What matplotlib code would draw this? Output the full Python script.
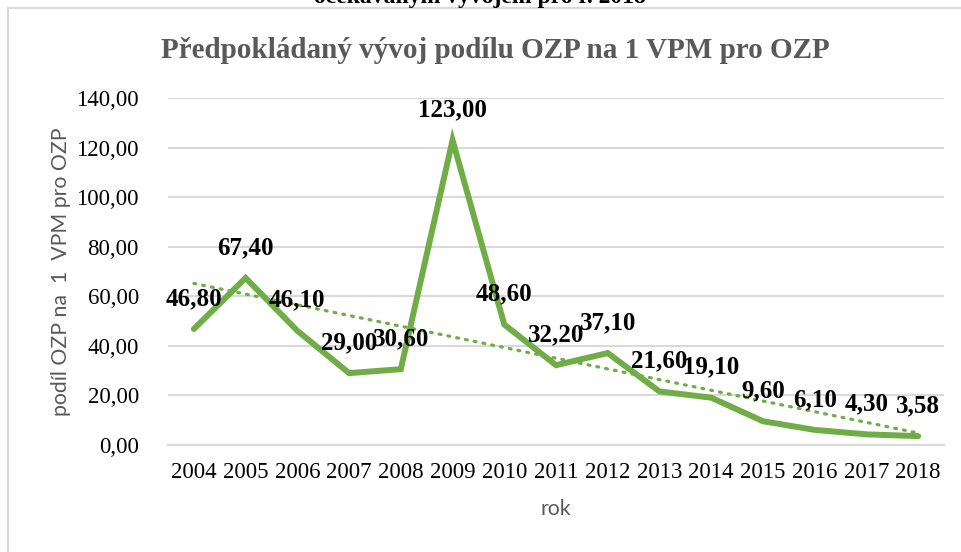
import matplotlib
matplotlib.use("Agg")
import matplotlib.pyplot as plt
import numpy as np
from matplotlib.patches import Rectangle

years = ["2004", "2005", "2006", "2007", "2008", "2009", "2010", "2011",
         "2012", "2013", "2014", "2015", "2016", "2017", "2018"]
values = [46.80, 67.40, 46.10, 29.00, 30.60, 123.00, 48.60, 32.20,
          37.10, 21.60, 19.10, 9.60, 6.10, 4.30, 3.58]
yticks = [0, 20, 40, 60, 80, 100, 120, 140]

title = "Předpokládaný vývoj podílu OZP na 1 VPM pro OZP"
caption = "očekávaným vývojem pro r. 2018"
ylabel = "podíl OZP na  1  VPM pro OZP"
xlabel = "rok"

GREEN = "#70AD47"
GRAY = "#595959"
GRID = "#D9D9D9"
SERIF = ["Liberation Serif", "DejaVu Serif"]
SANS = ["Lato", "DejaVu Sans"]

fig = plt.figure(figsize=(9.61, 5.52), dpi=100)
fig.patch.set_facecolor("white")

# chart border
fig.patches.append(Rectangle((8 / 961, -0.1), 1.2, 1.1 - 8 / 552,
                             transform=fig.transFigure, fill=False,
                             edgecolor=GRID, linewidth=1.5))

ax = fig.add_axes([168 / 961, (552 - 445) / 552, (944 - 168) / 961, (445 - 98) / 552])
x = np.arange(len(years))

ax.set_xlim(-0.5, len(years) - 0.5)
ax.set_ylim(0, 140)
ax.set_yticks(yticks)
ax.set_yticklabels([f"{v:.2f}".replace(".", ",") for v in yticks],
                   fontfamily=SERIF, fontsize=16.5, color="black")
ax.set_xticks(x)
ax.set_xticklabels(years, fontfamily=SERIF, fontsize=16.5, color="black")
ax.tick_params(axis="both", length=0)
ax.tick_params(axis="y", pad=21)
ax.tick_params(axis="x", pad=12)
ax.grid(axis="y", color=GRID, linewidth=1.5)
ax.set_axisbelow(True)
for s in ["left", "right", "top"]:
    ax.spines[s].set_visible(False)
ax.spines["bottom"].set_color(GRID)
ax.spines["bottom"].set_linewidth(1.5)

# trend line (linear fit of the data)
coef = np.polyfit(x, values, 1)
ax.plot(x, np.polyval(coef, x), linestyle=(0, (0.6, 2.2)), color=GREEN,
        linewidth=2.3, dash_capstyle="round", zorder=2)

ax.plot(x, values, color=GREEN, linewidth=4.3, solid_joinstyle="miter",
        solid_capstyle="round", zorder=3)

for xi, v in zip(x, values):
    ax.annotate(f"{v:.2f}".replace(".", ","), (xi, v), xytext=(0, 22),
                textcoords="offset points", ha="center", va="center",
                fontfamily=SERIF, fontweight="bold", fontsize=18,
                color="black", zorder=4)

ax.set_ylabel(ylabel, fontfamily=SANS, fontsize=15.3, color=GRAY, labelpad=4)
ax.set_xlabel(xlabel, fontfamily=SANS, fontsize=15.3, color=GRAY, labelpad=12)

fig.text(495 / 961, 1 - 50 / 552, title, ha="center", va="center",
         fontfamily=SERIF, fontweight="bold", fontsize=21, color=GRAY)
fig.text(480 / 961, 1 - 3 / 552, caption, ha="center", va="baseline",
         fontfamily=SERIF, fontweight="bold", fontsize=17, color="black")

fig.savefig("out.png", dpi=100)
